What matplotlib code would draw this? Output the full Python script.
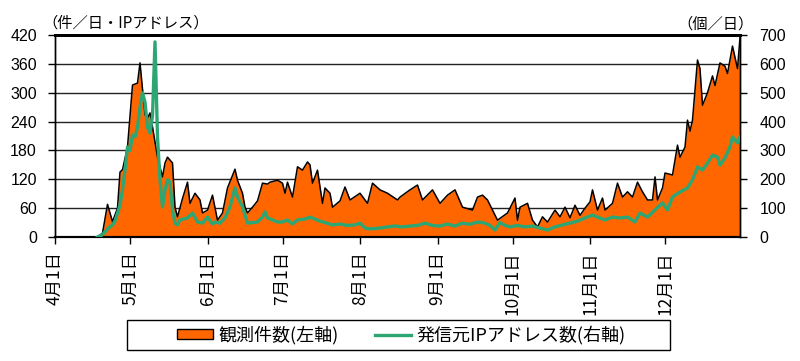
import matplotlib
matplotlib.use("Agg")
import matplotlib.pyplot as plt
from matplotlib.patches import Patch, Rectangle
from matplotlib.lines import Line2D

plt.rcParams['font.family'] = ['Liberation Sans', 'Noto Sans CJK JP', 'DejaVu Sans']

# day offsets from April 1 and values
obs_days = [17, 19, 21, 23, 25, 26, 27, 29, 31, 33, 34, 36, 37, 38, 39, 41, 43, 44, 45, 47,
            48, 49, 51, 53, 54, 56, 58, 59, 61, 63, 65, 67, 69, 72, 73, 75, 76, 77, 79, 81,
            83, 85, 86, 89, 91, 92, 93, 95, 97, 99, 101, 102, 103, 105, 107, 108, 110, 111, 114, 116,
            118, 122, 125, 127, 130, 133, 137, 138, 142, 145, 147, 151, 154, 157, 160, 163, 167, 169, 171, 173,
            177, 181, 184, 185, 186, 189, 191, 193, 195, 197, 200, 202, 204, 206, 208, 210, 212, 214, 215, 217,
            219, 220, 223, 225, 227, 229, 231, 233, 235, 237, 239, 240, 241, 243, 244, 247, 249, 250, 252, 253,
            254, 255, 257, 258, 259, 261, 263, 264, 266, 268, 269, 271, 273, 274]
obs_vals = [0, 8, 68, 32, 60, 135, 140, 187, 316, 320, 362, 254, 247, 258, 229, 166, 125, 154, 166, 154,
            62, 42, 80, 114, 70, 91, 77, 50, 56, 87, 35, 50, 102, 141, 118, 91, 62, 50, 62, 75,
            112, 110, 114, 118, 112, 91, 114, 83, 146, 139, 156, 150, 112, 139, 70, 102, 91, 62, 75, 104,
            77, 91, 70, 112, 98, 91, 77, 83, 98, 108, 77, 98, 70, 87, 98, 62, 56, 83, 87, 77,
            35, 50, 81, 35, 62, 70, 35, 21, 42, 31, 56, 42, 62, 40, 66, 45, 60, 73, 98, 56,
            81, 56, 70, 112, 83, 94, 83, 114, 94, 77, 77, 125, 77, 102, 133, 129, 191, 166, 187, 243,
            220, 243, 368, 350, 274, 300, 335, 315, 362, 355, 340, 397, 350, 415]

ip_days = [17, 19, 21, 23, 24, 26, 27, 28, 29, 30, 31, 32, 33, 34, 35, 36, 37, 38, 39, 40,
           41, 42, 43, 44, 45, 46, 47, 48, 49, 50, 53, 55, 57, 59, 61, 63, 64, 66, 68, 70,
           72, 73, 75, 77, 79, 81, 83, 84, 85, 87, 89, 91, 93, 95, 97, 100, 102, 104, 106, 108,
           111, 114, 117, 120, 122, 124, 126, 130, 133, 136, 139, 142, 145, 148, 151, 154, 157, 160, 163, 166,
           169, 172, 174, 176, 178, 180, 182, 185, 188, 191, 194, 197, 200, 203, 206, 209, 212, 215, 217, 220,
           223, 226, 229, 232, 234, 237, 240, 242, 243, 245, 247, 250, 253, 255, 257, 259, 261, 263, 265, 266,
           268, 270, 271, 273, 274]
ip_vals = [0, 8, 28, 42, 55, 110, 163, 232, 312, 300, 353, 347, 380, 450, 500, 467, 380, 360, 420, 676,
           347, 198, 104, 163, 198, 190, 94, 48, 42, 59, 66, 83, 52, 48, 69, 45, 52, 48, 66, 104,
           170, 139, 104, 48, 50, 52, 69, 87, 66, 59, 52, 52, 59, 45, 59, 62, 69, 62, 55, 50,
           42, 45, 40, 42, 48, 31, 28, 31, 35, 38, 35, 38, 40, 48, 40, 38, 45, 38, 48, 44,
           52, 48, 40, 24, 50, 40, 35, 40, 35, 38, 31, 24, 35, 42, 48, 55, 66, 76, 69, 59,
           69, 66, 69, 52, 83, 69, 94, 110, 118, 94, 139, 156, 170, 198, 243, 232, 256, 284, 277, 249,
           274, 312, 347, 326, 347]

month_days = [0, 30, 61, 91, 122, 153, 183, 214, 244]
month_labels = ['4月1日', '5月1日', '6月1日', '7月1日', '8月1日', '9月1日', '10月1日', '11月1日', '12月1日']
left_ticks = [0, 60, 120, 180, 240, 300, 360, 420]
right_ticks = [0, 100, 200, 300, 400, 500, 600, 700]

orange = '#FF6600'
green = '#2EA673'

fig = plt.figure(figsize=(8, 3.61), dpi=100)
ax = fig.add_axes([55/800, 124/361, 685/800, 202/361])
ax2 = ax.twinx()

ax.set_xlim(0, 274)
ax.set_ylim(0, 420)
ax2.set_ylim(0, 700)

for y in left_ticks[1:-1]:
    ax.axhline(y, color='#222222', lw=1.0, zorder=0)

ax.fill_between(obs_days, obs_vals, color=orange, lw=0, zorder=2)
ax.plot(obs_days, obs_vals, color='black', lw=1.1, zorder=3)
ax2.plot(ip_days, ip_vals, color=green, lw=2.4, zorder=4)

cjk = ['Noto Sans CJK JP', 'DejaVu Sans']
ax.set_xticks(month_days)
ax.set_xticklabels(month_labels, rotation=90, family=cjk, fontsize=12.5)
ax.set_yticks(left_ticks)
ax.set_yticklabels([str(v) for v in left_ticks], fontsize=11.5)
ax2.set_yticks(right_ticks)
ax2.set_yticklabels([str(v) for v in right_ticks], fontsize=11.5)

ax.tick_params(axis='x', direction='out', length=5, width=1, pad=5)
ax.tick_params(axis='y', direction='out', length=5, width=1, pad=8)
ax2.tick_params(axis='y', direction='out', length=5, width=1, pad=9)

for a in (ax, ax2):
    for s in a.spines.values():
        s.set_color('black')
        s.set_linewidth(1.0)
    a.spines['top'].set_linewidth(2.0)
    a.spines['bottom'].set_linewidth(1.5)

fig.text(42/800, 1 - 23/361, '（件／日・IPアドレス）', family=cjk, fontsize=11, va='center', ha='left')
fig.text(754/800, 1 - 24/361, '（個／日）', family=cjk, fontsize=11, va='center', ha='right')

# legend box
fig.patches.append(Rectangle((127/800, 1 - 350/361), 543/800, 30/361, transform=fig.transFigure,
                             facecolor='white', edgecolor='black', lw=1.0, zorder=1))
handles = [Patch(facecolor=orange, edgecolor='black', lw=1.0),
           Line2D([0], [0], color=green, lw=2.4)]
leg = fig.legend(handles, ['観測件数(左軸)', '発信元IPアドレス数(右軸)'], ncol=2,
                 loc='center', bbox_to_anchor=(401/800, 1 - 335/361),
                 prop={'family': cjk, 'size': 13}, frameon=False,
                 columnspacing=2.0, handlelength=2.0, handleheight=0.45,
                 handletextpad=0.3)
leg.set_zorder(2)

fig.savefig('out.png', dpi=100)
